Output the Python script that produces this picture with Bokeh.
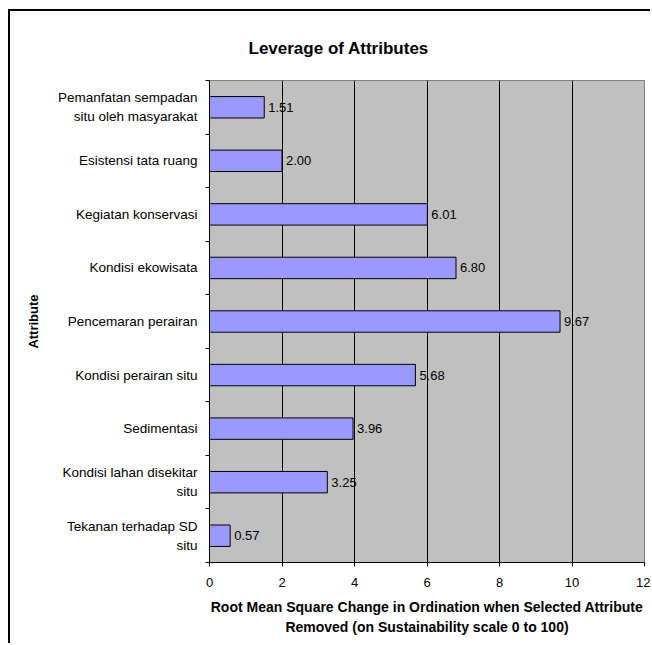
from bokeh.plotting import figure
from bokeh.models import ColumnDataSource, Range1d, FixedTicker, LabelSet
from bokeh.core.properties import value
from bokeh.embed import file_html
from bokeh.resources import INLINE

# ---- data (top to bottom as shown) ----
categories = [
    "Pemanfatan sempadan\nsitu oleh masyarakat",
    "Esistensi tata ruang",
    "Kegiatan konservasi",
    "Kondisi ekowisata",
    "Pencemaran perairan",
    "Kondisi perairan situ",
    "Sedimentasi",
    "Kondisi lahan disekitar\nsitu",
    "Tekanan terhadap SD\nsitu",
]
values = [1.51, 2.00, 6.01, 6.80, 9.67, 5.68, 3.96, 3.25, 0.57]
x_ticks = [0, 2, 4, 6, 8, 10, 12]

title_text = "Leverage of Attributes"
y_title = "Attribute"
x_title = ("Root Mean Square Change in Ordination when Selected Attribute\n"
           "Removed (on Sustainability scale 0 to 100)")

FONT = "Liberation Sans"

n = len(categories)
pos = [i + 0.5 for i in range(n)]          # band centres
bounds = list(range(n + 1))                 # band boundaries (tick marks)
labels_txt = ["%.2f" % v for v in values]
src = ColumnDataSource(dict(cat=categories, val=values, pos=pos, lab=labels_txt))

p = figure(width=642, height=634, output_backend="svg", toolbar_location=None,
           x_range=Range1d(0, 12), y_range=Range1d(n, 0),
           min_border_left=199, min_border_right=8, min_border_top=69, min_border_bottom=83)
p.styles = {"margin-left": "8px", "margin-top": "9px",
            "border-left": "2px solid black", "border-top": "2px solid black"}

p.background_fill_color = "#C0C0C0"
p.border_fill_color = "white"
p.outline_line_color = "#808080"
p.outline_line_width = 1

# title
p.title.text = title_text
p.title.align = "left"
p.title.offset = 39
p.title.vertical_align = "top"
p.title.text_font = FONT
p.title.text_font_size = "17px"
p.title.text_font_style = "bold"
p.title.text_color = "black"
try:
    p.title.standoff = 42
except Exception:
    pass

# grid
p.xgrid.ticker = FixedTicker(ticks=x_ticks)
p.xgrid.grid_line_color = "black"
p.xgrid.grid_line_width = 1
p.ygrid.visible = False

# x axis
p.xaxis.ticker = FixedTicker(ticks=x_ticks)
p.xaxis.major_tick_out = 4
p.xaxis.major_tick_in = 0
p.xaxis.minor_tick_line_color = None
p.xaxis.axis_line_color = "black"
p.xaxis.major_tick_line_color = "black"
p.xaxis.major_label_text_font = FONT
p.xaxis.major_label_text_font_size = "13px"
p.xaxis.major_label_text_color = "black"
p.xaxis.major_label_standoff = 11
p.xaxis.axis_label = x_title
p.xaxis.axis_label_text_font = FONT
p.xaxis.axis_label_text_font_size = "14px"
p.xaxis.axis_label_text_font_style = "bold"
p.xaxis.axis_label_text_color = "black"
p.xaxis.axis_label_text_line_height = 1.3
p.xaxis.axis_label_standoff = 9

# y axis: labels at band centres, tick marks at band boundaries (minor ticks)
p.yaxis.ticker = FixedTicker(ticks=pos, minor_ticks=bounds)
p.yaxis.major_label_overrides = {pv: c for pv, c in zip(pos, categories)}
p.yaxis.major_tick_out = 0
p.yaxis.major_tick_in = 0
p.yaxis.major_tick_line_color = None
p.yaxis.minor_tick_out = 4
p.yaxis.minor_tick_in = 0
p.yaxis.minor_tick_line_color = "black"
p.yaxis.axis_line_color = "black"
p.yaxis.major_label_standoff = 8
p.yaxis.major_label_text_font = FONT
p.yaxis.major_label_text_font_size = "13.5px"
p.yaxis.major_label_text_color = "black"
p.yaxis.major_label_text_line_height = 1.25
p.yaxis.axis_label = y_title
p.yaxis.axis_label_text_font = FONT
p.yaxis.axis_label_text_font_size = "13px"
p.yaxis.axis_label_text_font_style = "bold"
p.yaxis.axis_label_text_color = "black"
p.yaxis.axis_label_standoff = 14

# bars
p.hbar(y="pos", left=0, right="val", height=0.4, source=src,
       fill_color="#9999FF", line_color="black", line_width=1)

# value labels
p.add_layout(LabelSet(x="val", y="pos", text="lab", source=src, x_offset=4,
                      text_font=value(FONT), text_font_size="13px", text_color="black",
                      text_baseline="middle", text_align="left"))

open("out.html", "w").write(file_html(p, INLINE))
